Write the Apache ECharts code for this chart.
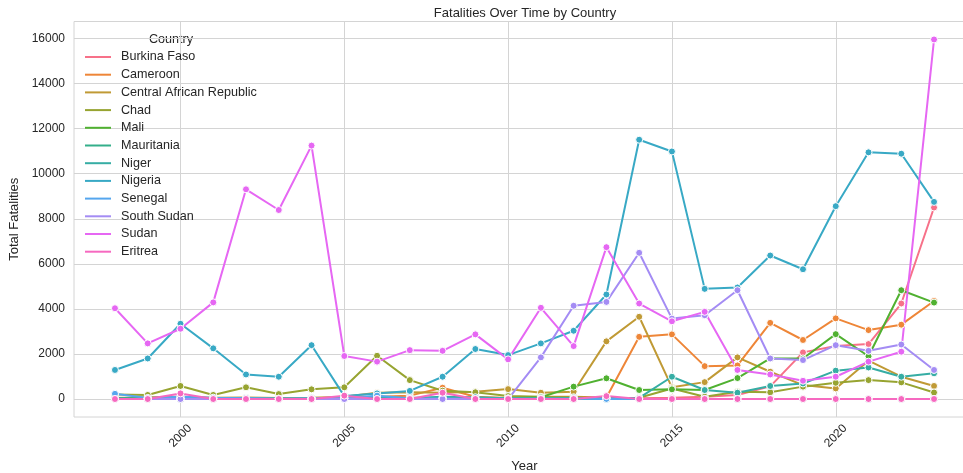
<!DOCTYPE html>
<html>
<head>
<meta charset="utf-8">
<script src="https://cdn.jsdelivr.net/npm/echarts@6/dist/echarts.min.js"></script>
<style>
  html, body { margin: 0; padding: 0; background: #fff; }
  #chart { width: 963px; height: 473px; }
</style>
</head>
<body>
<div id="chart"></div>
<script>
// Annual fatalities per country, 1998-2023
const years = [1998, 1999, 2000, 2001, 2002, 2003, 2004, 2005, 2006, 2007, 2008, 2009, 2010,
               2011, 2012, 2013, 2014, 2015, 2016, 2017, 2018, 2019, 2020, 2021, 2022, 2023];

const countries = ['Burkina Faso', 'Cameroon', 'Central African Republic', 'Chad', 'Mali',
                   'Mauritania', 'Niger', 'Nigeria', 'Senegal', 'South Sudan', 'Sudan', 'Eritrea'];

const burkinaFaso = [10, 5, 0, 5, 10, 5, 5, 10, 20, 15, 30, 10, 5, 10, 15, 40, 30, 60, 100, 180, 560, 2070, 2350, 2440, 4240, 8500];
const cameroon    = [20, 10, 30, 20, 15, 10, 20, 50, 100, 150, 500, 100, 50, 100, 100, 70, 2760, 2870, 1460, 1490, 3380, 2620, 3580, 3060, 3300, 4350];
const centralAfricanRepublic = [50, 80, 100, 60, 70, 50, 60, 100, 280, 300, 280, 325, 440, 280, 325, 2560, 3650, 520, 750, 1850, 1210, 620, 470, 1700, 990, 580];
const chad        = [200, 180, 580, 180, 520, 220, 430, 520, 1920, 840, 370, 300, 130, 100, 80, 50, 60, 470, 100, 320, 300, 550, 720, 840, 740, 290];
const mali        = [30, 20, 20, 10, 20, 10, 20, 30, 40, 30, 50, 40, 30, 80, 550, 920, 400, 430, 400, 930, 1800, 1800, 2880, 1900, 4830, 4280];
const mauritania  = [10, 5, 5, 5, 5, 5, 5, 20, 10, 10, 30, 10, 10, 5, 5, 5, 5, 5, 5, 5, 5, 5, 5, 5, 5, 5];
const niger       = [30, 20, 30, 20, 10, 10, 20, 50, 50, 50, 100, 80, 30, 30, 40, 50, 50, 990, 400, 280, 580, 690, 1260, 1400, 990, 1140];
const nigeria     = [1290, 1800, 3340, 2250, 1090, 990, 2390, 130, 250, 360, 990, 2220, 1950, 2470, 3030, 4640, 11510, 10990, 4890, 4950, 6370, 5760, 8560, 10950, 10890, 8750];
const senegal     = [230, 50, 100, 60, 50, 20, 30, 40, 150, 30, 20, 10, 10, 10, 10, 5, 5, 5, 5, 5, 5, 5, 5, 5, 5, 5];
const southSudan  = [0, 0, 0, 0, 0, 0, 0, 0, 0, 0, 0, 0, 0, 1850, 4140, 4310, 6490, 3570, 3720, 4830, 1800, 1730, 2390, 2140, 2420, 1290];
const sudan       = [4030, 2470, 3120, 4290, 9310, 8390, 11250, 1910, 1660, 2170, 2140, 2870, 1760, 4050, 2350, 6740, 4240, 3450, 3870, 1290, 1090, 810, 990, 1660, 2100, 15960];
const eritrea     = [0, 0, 250, 0, 0, 0, 0, 150, 0, 0, 280, 0, 0, 0, 0, 130, 0, 0, 0, 0, 0, 0, 0, 0, 0, 0];

const seriesValues = [burkinaFaso, cameroon, centralAfricanRepublic, chad, mali, mauritania,
                      niger, nigeria, senegal, southSudan, sudan, eritrea];

const palette = ['#f77189', '#ee8638', '#c09a35', '#97a431', '#50b131', '#34af8a',
                 '#36ada4', '#38a9c5', '#55a6ee', '#a48cf4', '#e667f3', '#f669c0'];

const xTicks = [2000, 2005, 2010, 2015, 2020];
const yTicks = [0, 2000, 4000, 6000, 8000, 10000, 12000, 14000, 16000];

const textColor = '#262626';
const gridColor = '#d4d4d4';
const fontFamily = '"Liberation Sans", Arial, sans-serif';

const chart = echarts.init(document.getElementById('chart'), null, { renderer: 'canvas' });

const series = countries.map((name, i) => ({
  name: name,
  type: 'line',
  data: years.map((y, k) => [y, seriesValues[i][k]]),
  symbol: 'circle',
  symbolSize: 7,
  showSymbol: true,
  lineStyle: { width: 2, color: palette[i] },
  itemStyle: { color: palette[i], borderColor: '#ffffff', borderWidth: 1 },
  emphasis: { disabled: true },
  animation: false
}));

chart.setOption({
  animation: false,
  backgroundColor: '#ffffff',
  textStyle: { fontFamily: fontFamily },
  title: {
    text: 'Fatalities Over Time by Country',
    left: 520,
    top: 2,
    textAlign: 'center',
    textStyle: { fontFamily: fontFamily, fontSize: 13, fontWeight: 'normal', color: textColor }
  },
  grid: {
    left: 74,
    width: 901,
    top: 21.5,
    bottom: 56,
    outerBoundsMode: 'none',
    show: true,
    borderColor: gridColor,
    borderWidth: 1,
    containLabel: false
  },
  legend: {
    orient: 'vertical',
    left: 85,
    top: 50,
    padding: 0,
    data: countries,
    icon: 'rect',
    itemWidth: 26,
    itemHeight: 2,
    itemGap: 3.7,
    selectedMode: false,
    itemStyle: { borderWidth: 0 },
    textStyle: { fontFamily: fontFamily, fontSize: 12.6, color: textColor, lineHeight: 14, padding: [0, 0, 0, 5] }
  },
  graphic: [{
    type: 'text',
    left: 149,
    top: 33,
    style: { text: 'Country', font: '12.6px ' + fontFamily, fill: textColor }
  }],
  xAxis: {
    type: 'value',
    min: 1996.75,
    max: 2024.25,
    name: 'Year',
    nameLocation: 'middle',
    nameGap: 43,
    nameTextStyle: { fontFamily: fontFamily, fontSize: 13, color: textColor },
    axisLine: { show: false },
    axisTick: { show: false, customValues: xTicks },
    axisLabel: {
      customValues: xTicks,
      rotate: 45,
      align: 'center',
      verticalAlign: 'middle',
      margin: 19,
      fontFamily: fontFamily,
      fontSize: 12,
      color: textColor,
      formatter: v => String(v)
    },
    splitLine: { show: true, lineStyle: { color: gridColor, width: 1 } }
  },
  yAxis: {
    type: 'value',
    min: -798,
    max: 16758,
    name: 'Total Fatalities',
    nameLocation: 'middle',
    nameGap: 49,
    nameTextStyle: { fontFamily: fontFamily, fontSize: 13, color: textColor },
    axisLine: { show: false },
    axisTick: { show: false, customValues: yTicks },
    axisLabel: {
      customValues: yTicks,
      margin: 9,
      fontFamily: fontFamily,
      fontSize: 12,
      color: textColor,
      formatter: v => String(v)
    },
    splitLine: { show: true, lineStyle: { color: gridColor, width: 1 } }
  },
  series: series
});
</script>
</body>
</html>
